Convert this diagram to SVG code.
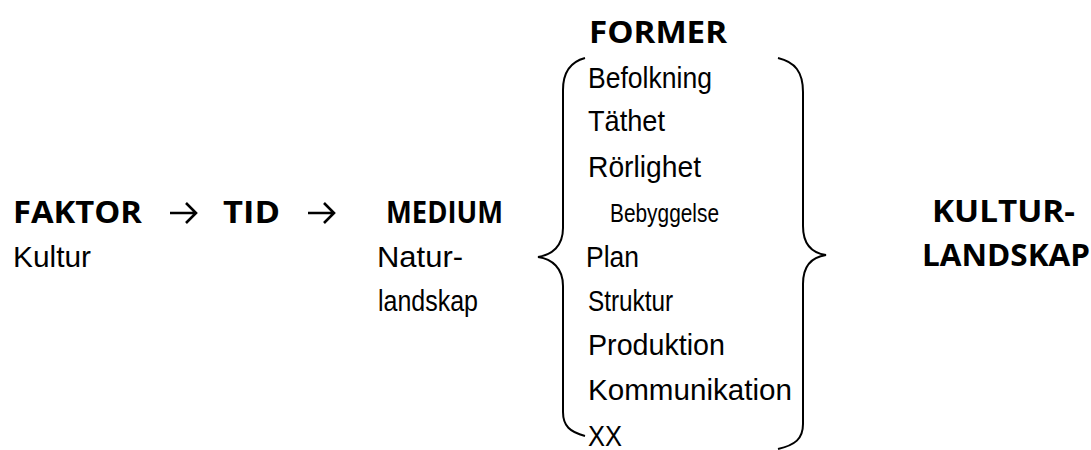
<svg xmlns="http://www.w3.org/2000/svg" width="1091" height="450" viewBox="0 0 1091 450">
<style>
.b{font-family:"Open Sans","DejaVu Sans",sans-serif;font-weight:700;font-size:30.5px;fill:#000}
.r{font-family:"Liberation Sans",Arial,sans-serif;font-size:30px;fill:#000}
.w{font-family:"Liberation Sans",Arial,sans-serif;font-size:30px;fill:#000}
.s{font-family:"Liberation Sans",Arial,sans-serif;font-size:26px;fill:#000}
.br{fill:none;stroke:#000;stroke-width:2}
.ar{fill:none;stroke:#000;stroke-width:2.6;stroke-linecap:butt;stroke-linejoin:miter}
</style>
<rect width="1091" height="450" fill="#fff"/>
<g id="faktor">
<text class="b" x="13" y="223" textLength="129" lengthAdjust="spacingAndGlyphs">FAKTOR</text>
<text class="r" x="13" y="267" textLength="78" lengthAdjust="spacingAndGlyphs">Kultur</text>
</g>
<g id="tid">
<text class="b" x="223" y="223" textLength="57" lengthAdjust="spacingAndGlyphs">TID</text>
</g>
<g id="medium">
<text class="b" x="386" y="223" textLength="117" lengthAdjust="spacingAndGlyphs">MEDIUM</text>
<text class="r" x="377" y="267" textLength="86" lengthAdjust="spacingAndGlyphs">Natur-</text>
<text class="r" x="378" y="311" textLength="100" lengthAdjust="spacingAndGlyphs">landskap</text>
</g>
<g id="former">
<text class="b" x="589" y="43" textLength="138" lengthAdjust="spacingAndGlyphs">FORMER</text>
<path class="br" d="M585,58 C570,62 563,72 563,90 L563,228 C563,246 552,255 538,257 C552,259 563,268 563,286 L563,412 C563,426 570,432 585,436"/>
<path class="br" d="M778,58 C795,62 803,72 803,92 L803,226 C803,244 812,253 826,255 C812,257 803,266 803,284 L803,424 C803,439 795,445 778,449"/>
<text class="r" x="588" y="88" textLength="124" lengthAdjust="spacingAndGlyphs">Befolkning</text>
<text class="r" x="588" y="131" textLength="77" lengthAdjust="spacingAndGlyphs">Täthet</text>
<text class="r" x="588" y="177" textLength="113" lengthAdjust="spacingAndGlyphs">Rörlighet</text>
<text class="s" x="610" y="222" textLength="109" lengthAdjust="spacingAndGlyphs">Bebyggelse</text>
<text class="r" x="586" y="267" textLength="53" lengthAdjust="spacingAndGlyphs">Plan</text>
<text class="r" x="588" y="311" textLength="85" lengthAdjust="spacingAndGlyphs">Struktur</text>
<text class="w" x="588" y="355" textLength="137" lengthAdjust="spacingAndGlyphs">Produktion</text>
<text class="w" x="588" y="400" textLength="204" lengthAdjust="spacingAndGlyphs">Kommunikation</text>
<text class="w" x="588" y="446" textLength="34" lengthAdjust="spacingAndGlyphs">XX</text>
</g>
<g id="kulturlandskap">
<text class="b" x="932" y="222" textLength="143" lengthAdjust="spacingAndGlyphs">KULTUR-</text>
<text class="b" x="922" y="266" textLength="168" lengthAdjust="spacingAndGlyphs">LANDSKAP</text>
</g>
<g id="connectors">
<path class="ar" d="M170,213 H196 M186,203 L196,213 L186,223"/>
<path class="ar" d="M308,213 H334 M324,203 L334,213 L324,223"/>
</g>
</svg>
